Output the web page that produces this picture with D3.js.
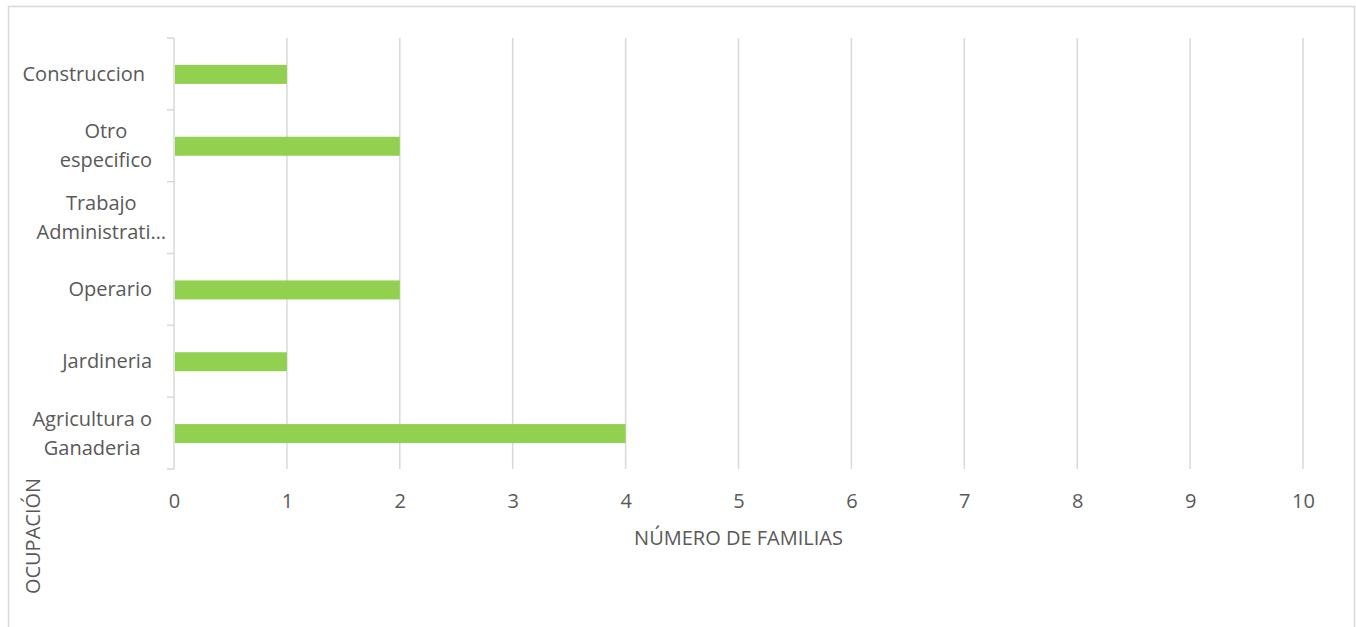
<!DOCTYPE html>
<html><head><meta charset="utf-8">
<script src="https://cdn.jsdelivr.net/npm/d3@7"></script>
<style>
html,body{margin:0;padding:0;background:#fff;}
svg{display:block;}
text{font-family:"Open Sans",sans-serif;fill:#595959;}
</style></head>
<body>
<svg id="c" width="1356" height="627"></svg>
<script>
const categories = ["Agricultura o Ganaderia","Jardineria","Operario","Trabajo Administrativo","Otro especifico","Construccion"];
const labelLines = [["Agricultura o","Ganaderia"],["Jardineria"],["Operario"],["Trabajo","Administrati…"],["Otro","especifico"],["Construccion"]];
const values = [4,1,2,0,2,1];
const xTicks = [0,1,2,3,4,5,6,7,8,9,10];
const xTitle = "NÚMERO DE FAMILIAS";
const yTitle = "OCUPACIÓN";

const svg = d3.select("#c");
svg.append("rect").attr("x",8.5).attr("y",6.5).attr("width",1346).attr("height",640)
  .attr("fill","#fff").attr("stroke","#d9d9d9").attr("stroke-width",1.5);

const x = d3.scaleLinear().domain([0,10]).range([174,1303]);
const y = d3.scaleBand().domain(categories.slice().reverse()).range([38,469]).paddingInner(0).paddingOuter(0);
const barH = 19;

// gridlines
svg.append("g").selectAll("line").data(xTicks.filter(d=>d>0)).join("line")
  .attr("x1",d=>x(d)).attr("x2",d=>x(d)).attr("y1",38).attr("y2",469)
  .attr("stroke","#d9d9d9").attr("stroke-width",1.5);

// y axis line with ticks
const ga = svg.append("g").attr("transform","translate(174,0)");
const bounds = [38].concat(categories.slice().reverse().map(c=>y(c)+y.bandwidth()));
ga.selectAll("line.t").data(bounds).join("line").attr("class","t")
  .attr("x1",-7).attr("x2",0).attr("y1",d=>d).attr("y2",d=>d)
  .attr("stroke","#d9d9d9").attr("stroke-width",1.5);
ga.append("line").attr("x1",0).attr("x2",0).attr("y1",38).attr("y2",469)
  .attr("stroke","#d9d9d9").attr("stroke-width",1.5);

// bars
svg.append("g").selectAll("rect").data(categories).join("rect")
  .attr("x",x(0)+1).attr("y",(d)=>y(d)+y.bandwidth()/2-barH/2+0.5)
  .attr("width",(d,i)=>Math.max(0,x(values[i])-x(0)-1)).attr("height",barH)
  .attr("fill","#92d050");

// x tick labels
const xAxis = d3.axisBottom(x).tickValues(xTicks).tickSize(0).tickPadding(0);
const gx = svg.append("g").attr("transform","translate(0,501)").call(xAxis);
gx.select(".domain").remove();
gx.selectAll("text").attr("dy","0.35em").style("font-size","20px").style("font-family","'Open Sans',sans-serif").attr("fill","#595959");

// y labels
const lineH = 29;
categories.forEach((c,i)=>{
  const lines = labelLines[i];
  const cy = y(c)+y.bandwidth()/2;
  const g = svg.append("g");
  const texts = lines.map((t,j)=>g.append("text").text(t)
    .attr("y",cy+(j-(lines.length-1)/2)*lineH).attr("dy","0.35em")
    .style("font-size","20px").attr("text-anchor","middle"));
  const w = d3.max(texts,t=>t.node().getComputedTextLength());
  let right = c==="Trabajo Administrativo" ? 166 : (c==="Construccion" ? 145 : 152);
  texts.forEach(t=>t.attr("x",right-w/2));
});

// axis titles
svg.append("text").attr("x",(x(0)+x(10))/2).attr("y",538).attr("dy","0.35em")
  .attr("text-anchor","middle").style("font-size","20px").text(xTitle);
svg.append("text").attr("transform","translate(33,536) rotate(-90)").attr("dy","0.35em")
  .attr("text-anchor","middle").style("font-size","20px").text(yTitle);
</script>
</body></html>
